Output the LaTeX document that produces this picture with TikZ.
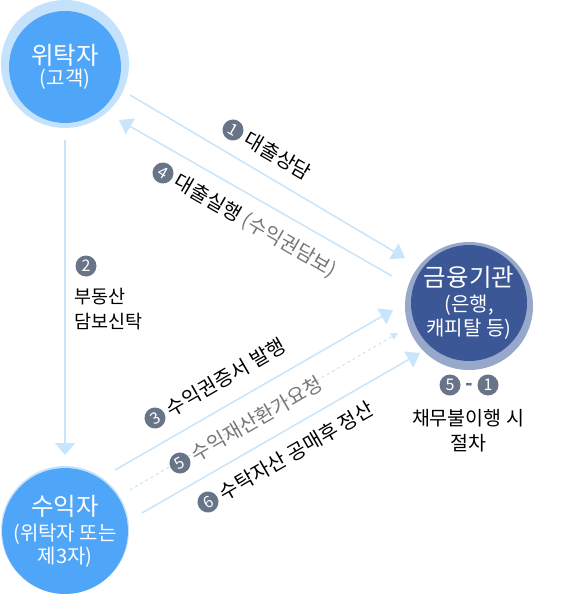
\documentclass[tikz,border=0pt]{standalone}
\usepackage{fontspec}
\setmainfont{Noto Sans CJK KR}
\usetikzlibrary{arrows.meta}
\definecolor{ringlight}{HTML}{C5E2FD}
\definecolor{innerblue}{HTML}{4FA5F8}
\definecolor{ringdark}{HTML}{97A8CB}
\definecolor{innerdark}{HTML}{3B5796}
\definecolor{linecol}{HTML}{C9E5FB}
\definecolor{badgecol}{HTML}{687487}
\definecolor{graytxt}{HTML}{777777}
\begin{document}
\begin{tikzpicture}[x=1pt,y=-1pt,
  ring/.style={circle, minimum size=128pt, inner sep=0pt},
  core/.style={circle, minimum size=112pt, inner sep=0pt, text=white, align=center},
  badge/.style={circle, fill=badgecol, text=white, minimum size=21pt, inner sep=0pt, font=\fontsize{16}{16}\selectfont},
  lbl/.style={font=\fontsize{20}{22}\selectfont, inner sep=4pt, anchor=west},
  conn/.style={draw=linecol, line width=1.5pt, -{Triangle[width=18pt,length=13pt]}},
  dconn/.style={draw=linecol, line width=1pt, dashed, -{Triangle[width=7pt,length=7pt]}}
]
\useasboundingbox (0,0) rectangle (572,596);
\fill[white] (0,0) rectangle (572,596);

% circles
\node[ring, fill=ringlight] (Ao) at (65,64) {};
\node[core, fill=innerblue, font=\fontsize{20}{26}\selectfont] (A) at (65,67) {{\fontsize{24.5}{26}\selectfont 위탁자}\\[-5pt](고객)};
\node[ring, fill=ringlight] (Bo) at (65,530) {};
\node[core, fill=innerblue, font=\fontsize{20}{23}\selectfont] (B) at (65,531) {{\fontsize{24.5}{26}\selectfont 수익자}\\[2pt](위탁자 또는\\제3자)};
\node[ring, fill=ringdark] (Co) at (469,306) {};
\node[core, minimum size=110pt, fill=innerdark, font=\fontsize{20}{24}\selectfont] (C) at (469,303) {{\fontsize{24.5}{28}\selectfont 금융기관}\\[1pt](은행,\\캐피탈 등)};

% connector end points
\coordinate (l1s) at (130,95);  \coordinate (l1e) at (405,258);
\coordinate (l4s) at (392,276); \coordinate (l4e) at (119,120);
\coordinate (l2s) at (65,140);  \coordinate (l2e) at (65,455);
\coordinate (l3s) at (115,470); \coordinate (l3e) at (393,310);
\coordinate (l5s) at (130,490); \coordinate (l5e) at (398,333);
\coordinate (l6s) at (142,513); \coordinate (l6e) at (420,353);

\draw[conn] (l1s) -- (l1e);
\draw[conn] (l4s) -- (l4e);
\draw[conn, -{Triangle[width=20pt,length=12pt]}] (l2s) -- (l2e);
\draw[conn] (l3s) -- (l3e);
\draw[dconn] (l5s) -- (l5e);
\draw[conn] (l6s) -- (l6e);

% labels
\node[badge, rotate=-30] (b1) at (233,130) {1};
\node[lbl, rotate=-30] (t1) at (b1.east) {대출상담};
\node[badge, rotate=-30] (b4) at (163,173) {4};
\node[lbl, rotate=-30] (t4) at (b4.east) {대출실행 \textcolor{graytxt}{(수익권담보)}};

\node[badge] (b2) at (86,266) {2};
\node[font=\fontsize{18.5}{25}\selectfont, align=left, anchor=west, inner sep=0pt] (t2) at (74,309) {부동산\\담보신탁};

\node[badge, rotate=30] (b3) at (155,418) {3};
\node[lbl, rotate=30] (t3) at (b3.east) {수익권증서 발행};
\node[badge, rotate=30] (b5) at (180,463) {5};
\node[lbl, rotate=30, text=graytxt] (t5) at (b5.east) {수익재산환가요청};
\node[badge, rotate=30] (b6) at (208,502) {6};
\node[lbl, rotate=30] (t6) at (b6.east) {수탁자산 공매후 정산};

\node[badge] (b51a) at (450,385) {5};
\node[text=badgecol, font=\bfseries\fontsize{20}{20}\selectfont, inner sep=0pt] (dash) at (469,387) {-};
\node[badge] (b51b) at (488,385) {1};
\node[font=\fontsize{19.5}{25}\selectfont, align=center, inner sep=0pt] (t51) at (468,431) {채무불이행 시\\절차};
\end{tikzpicture}
\end{document}
